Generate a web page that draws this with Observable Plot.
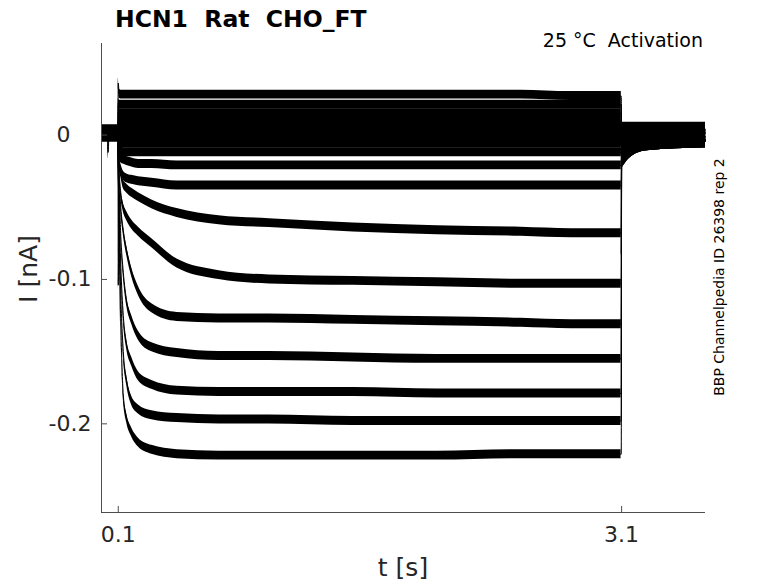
<!DOCTYPE html>
<html><head><meta charset="utf-8">
<script src="https://cdn.jsdelivr.net/npm/d3@7"></script>
<script src="https://cdn.jsdelivr.net/npm/@observablehq/plot@0.6"></script>
<style>body{margin:0;background:#fff}</style>
</head><body><div id="chart"></div>
<script>
// sample times (s)
const times = [0, 0.035, 0.04, 0.045, 0.098, 0.1, 0.105, 0.115, 0.13, 0.15, 0.18, 0.22, 0.3, 0.45, 0.7, 1.0, 1.5, 2.0, 2.5, 2.8, 3.098, 3.1, 3.12, 3.16, 3.25, 3.6];
// half-width of the recording noise band (nA) at each sample time
const noiseHalfWidth = [0.0048,0.0048,0.0048,0.0048,0.0048, 0.0035, 0.0031,0.0031,0.0031,0.0031,0.0031,0.0031,0.0031,0.0031,0.0031,0.0031,0.0031,0.0031,0.0031,0.0031,0.0031, 0.0048,0.0048,0.0048,0.0048,0.0048];
// mean current of each sweep (nA)
const trace01 = [0.002,0.002,0.002,0.002,0.002, 0.036,0.029,0.028,0.028,0.028,0.028,0.028,0.028,0.028,0.028,0.028,0.028,0.028,0.028,0.027,0.027, 0.004,0.004,0.004,0.004,0.004];
const trace02 = [0.001,0.001,0.001,0.001,0.001, 0.022,0.021,0.021,0.021,0.021,0.021,0.021,0.021,0.021,0.021,0.021,0.021,0.021,0.021,0.021,0.021, 0.003,0.003,0.003,0.003,0.003];
const trace03 = [0.002,0.002,0.002,0.002,0.002, 0.016,0.015,0.015,0.015,0.015,0.015,0.015,0.015,0.015,0.015,0.015,0.015,0.015,0.015,0.015,0.015, 0.002,0.002,0.002,0.002,0.002];
const trace04 = [0.001,0.001,0.001,0.001,0.001, 0.009,0.009,0.009,0.009,0.009,0.009,0.009,0.009,0.009,0.009,0.009,0.009,0.009,0.009,0.009,0.009, 0.002,0.002,0.002,0.002,0.002];
const trace05 = [0.000,0.000,0.000,0.000,0.000, 0.004,0.004,0.004,0.004,0.004,0.004,0.004,0.004,0.004,0.004,0.004,0.004,0.004,0.004,0.004,0.004, 0.001,0.001,0.001,0.001,0.001];
const trace06 = [0.001,0.001,0.001,0.001,0.001, -0.001,-0.001,-0.001,-0.001,-0.001,-0.001,-0.001,-0.001,-0.001,-0.001,-0.001,-0.001,-0.001,-0.001,-0.001,-0.001, 0.000,0.000,0.000,0.000,0.000];
const trace07 = [0.000,0.000,0.000,0.000,0.000, -0.006,-0.006,-0.006,-0.006,-0.006,-0.006,-0.006,-0.006,-0.006,-0.006,-0.006,-0.006,-0.006,-0.006,-0.006,-0.006, -0.001,-0.001,-0.001,-0.001,-0.001];
const trace08 = [0.001,0.001,0.001,0.001,0.001, -0.010,-0.011,-0.011,-0.012,-0.012,-0.012,-0.012,-0.012,-0.012,-0.012,-0.012,-0.012,-0.012,-0.012,-0.012,-0.012, -0.004,-0.003,-0.002,-0.002,-0.002];
const trace09 = [0.001,0.001,0.001,0.001,0.001, -0.012,-0.014,-0.016,-0.017,-0.018,-0.019,-0.020,-0.020,-0.021,-0.021,-0.021,-0.021,-0.021,-0.021,-0.021,-0.021, -0.008,-0.006,-0.004,-0.003,-0.002];
const trace10 = [0.002,0.002,0.002,0.002,0.002, -0.012,-0.018,-0.023,-0.028,-0.030,-0.031,-0.032,-0.033,-0.035,-0.035,-0.035,-0.035,-0.035,-0.035,-0.035,-0.035, -0.012,-0.009,-0.006,-0.004,-0.003];
const trace11 = [0.001,0.001,0.001,0.001,0.001, -0.012,-0.020,-0.026,-0.034,-0.037,-0.040,-0.043,-0.048,-0.054,-0.059,-0.061,-0.064,-0.066,-0.067,-0.068,-0.068, -0.015,-0.011,-0.007,-0.005,-0.003];
const trace12 = [0.001,0.001,0.001,0.001,0.001, -0.012,-0.025,-0.040,-0.050,-0.056,-0.062,-0.067,-0.075,-0.089,-0.097,-0.100,-0.101,-0.102,-0.103,-0.103,-0.103, -0.017,-0.013,-0.008,-0.005,-0.004];
const trace13 = [0.002,0.002,0.002,0.002,0.002, -0.015,-0.030,-0.050,-0.066,-0.080,-0.095,-0.108,-0.120,-0.126,-0.127,-0.127,-0.128,-0.129,-0.130,-0.131,-0.131, -0.018,-0.014,-0.009,-0.006,-0.004];
const trace14 = [0.001,0.001,0.001,0.001,0.001, -0.104,-0.040,-0.070,-0.095,-0.115,-0.128,-0.139,-0.147,-0.151,-0.153,-0.153,-0.154,-0.155,-0.155,-0.155,-0.155, -0.018,-0.014,-0.009,-0.006,-0.004];
const trace15 = [0.001,0.001,0.001,0.001,0.001, -0.020,-0.050,-0.090,-0.125,-0.145,-0.157,-0.167,-0.173,-0.177,-0.178,-0.178,-0.178,-0.179,-0.179,-0.179,-0.179, -0.019,-0.015,-0.010,-0.006,-0.004];
const trace16 = [0.002,0.002,0.002,0.002,0.002, -0.020,-0.060,-0.110,-0.150,-0.170,-0.184,-0.190,-0.194,-0.196,-0.197,-0.197,-0.198,-0.198,-0.198,-0.198,-0.198, -0.019,-0.015,-0.010,-0.006,-0.004];
const trace17 = [0.001,0.001,-0.012,0.001,0.001, -0.020,-0.070,-0.130,-0.180,-0.196,-0.206,-0.213,-0.218,-0.221,-0.222,-0.222,-0.222,-0.222,-0.221,-0.221,-0.221, -0.020,-0.015,-0.010,-0.006,-0.004];

const xTicks = [0.1, 3.1];
const yTicks = [0, -0.1, -0.2];
const xDomain = [0, 3.6];
const yDomain = [-0.2614, 0.0634];

const titleText = "HCN1  Rat  CHO_FT";
const conditionText = "25 °C  Activation";
const sourceText = "BBP Channelpedia ID 26398 rep 2";
const xLabel = "t [s]";
const yLabel = "I [nA]";

const traces = [trace01,trace02,trace03,trace04,trace05,trace06,trace07,trace08,trace09,trace10,trace11,trace12,trace13,trace14,trace15,trace16,trace17];
const rows = [];
traces.forEach((tr, k) => tr.forEach((v, i) => rows.push({
  trace: k, t: times[i], mean: v, lo: v - noiseHalfWidth[i], hi: v + noiseHalfWidth[i]
})));

const W = 778, H = 583, mL = 101, mR = 73, mT = 43, mB = 71;
const axisColor = "#4d4d4d";
const fmt = d => d === 0 ? "0\u00a0\u00a0\u00a0" : String(d);

const svg = Plot.plot({
  width: W, height: H,
  marginLeft: mL, marginRight: mR, marginTop: mT, marginBottom: mB,
  style: {fontFamily: "DejaVu Sans", color: "#262626", background: "#fff"},
  x: {domain: xDomain},
  y: {domain: yDomain},
  marks: [
    Plot.areaY(rows, {x: "t", y1: "lo", y2: "hi", z: "trace", fill: "black", curve: "monotone-x"}),
    Plot.line(rows, {x: "t", y: "mean", z: "trace", stroke: "black", strokeWidth: 1, curve: "monotone-x"}),
    Plot.ruleX([xDomain[0]], {stroke: axisColor, strokeWidth: 1}),
    Plot.ruleY([yDomain[0]], {stroke: axisColor, strokeWidth: 1}),
    Plot.tickX(xTicks, {x: d => d, stroke: axisColor, insetTop: (H - mT - mB) - 6}),
    Plot.tickY(yTicks, {y: d => d, stroke: axisColor, insetRight: (W - mL - mR) - 6}),
    Plot.axisX({ticks: xTicks, tickSize: 0, tickPadding: 14, fontSize: 22, tickFormat: fmt, label: null}),
    Plot.axisY({ticks: yTicks, tickSize: 0, tickPadding: 10, fontSize: 22, tickFormat: fmt, label: null})
  ]
});

const s = d3.select(svg);
s.append("text").attr("x", 115).attr("y", 27).attr("text-anchor", "start")
  .attr("font-family", "DejaVu Sans").attr("font-weight", "bold").attr("font-size", 23.5)
  .attr("fill", "#000").style("white-space", "pre").text(titleText);
s.append("text").attr("x", 703).attr("y", 47).attr("text-anchor", "end")
  .attr("font-family", "DejaVu Sans").attr("font-size", 19)
  .attr("fill", "#000").style("white-space", "pre").text(conditionText);
s.append("text").attr("transform", "translate(724,277) rotate(-90)").attr("text-anchor", "middle")
  .attr("font-family", "DejaVu Sans").attr("font-size", 14)
  .attr("fill", "#000").text(sourceText);
s.append("text").attr("x", 403).attr("y", 576).attr("text-anchor", "middle")
  .attr("font-family", "DejaVu Sans").attr("font-size", 25)
  .attr("fill", "#262626").text(xLabel);
s.append("text").attr("transform", "translate(37,269) rotate(-90)").attr("text-anchor", "middle")
  .attr("font-family", "DejaVu Sans").attr("font-size", 25)
  .attr("fill", "#262626").text(yLabel);

document.getElementById("chart").appendChild(svg);
</script>
</body></html>
